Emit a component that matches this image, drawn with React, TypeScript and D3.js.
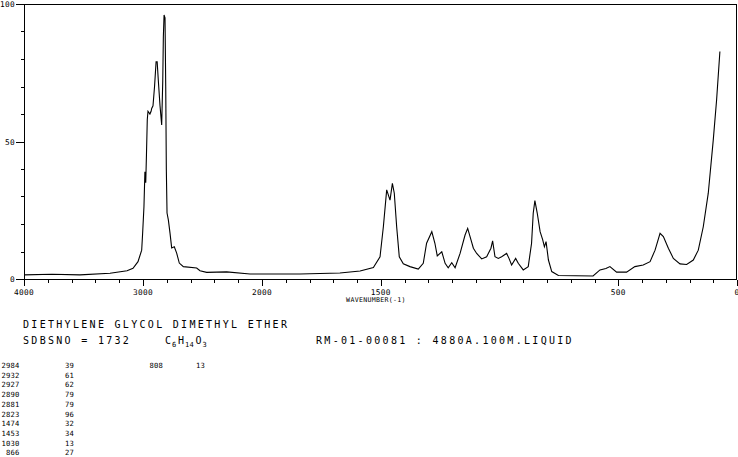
import React from "react";
import * as d3 from "d3";

// Raman spectrum (wavenumber in cm-1, relative intensity)
const WAVENUMBERS = [
  4000, 3765, 3530, 3277, 3134, 3084, 3042, 3011, 3003, 2992, 2984, 2977, 2971, 2964, 2958,
  2942, 2932, 2927, 2916, 2903, 2890, 2881, 2871, 2857, 2843, 2834, 2829, 2823, 2815, 2809,
  2804, 2798, 2787, 2773, 2759, 2737, 2717, 2695, 2661, 2549, 2521, 2465, 2297, 2101, 1840,
  1672, 1587, 1531, 1503, 1489, 1475, 1461, 1451, 1443, 1433, 1422, 1405, 1377, 1342, 1321,
  1307, 1285, 1272, 1262, 1243, 1229, 1216, 1201, 1187, 1166, 1145, 1134, 1120, 1110, 1096,
  1075, 1054, 1036, 1029, 1019, 1005, 991, 970, 960, 949, 932, 921, 900, 879, 865,
  858, 851, 841, 829, 818, 811, 804, 794, 780, 752, 606, 577, 552, 535, 507,
  465, 430, 395, 366, 345, 324, 310, 289, 268, 240, 212, 184, 163, 142, 121,
  100, 86, 72,
];
const INTENSITIES = [
  1.5, 1.7, 1.5, 2.1, 3.0, 3.9, 6.3, 10.5, 16.7, 26.3, 39, 35, 45, 58, 61,
  60, 61, 62, 63, 70, 79, 79, 72, 63, 56, 72, 88, 96, 95, 70,
  40, 24, 21.5, 16.7, 11.3, 11.7, 9.4, 5.8, 4.5, 4.0, 3.0, 2.4, 2.6, 1.8, 1.8,
  2.2, 2.9, 4.2, 8.1, 19, 32.4, 28.7, 34.8, 31.2, 19, 8.1, 5.5, 4.5, 3.6, 5.7,
  13, 17.2, 13, 8.4, 9.9, 5.7, 4.1, 5.9, 4.1, 9.3, 16, 18.4, 14.2, 11.2, 9.3,
  7.3, 8.1, 11.2, 13.9, 8.1, 7.5, 8.1, 9.3, 7.5, 5.1, 7.5, 5.7, 3.3, 4.5, 13,
  23.9, 28.5, 23.9, 17.2, 14.2, 11.7, 13.6, 6.9, 2.7, 1.3, 1.1, 3.3, 3.8, 4.5, 2.5,
  2.5, 4.5, 5.1, 6.3, 10.5, 16.6, 15.4, 11.2, 7.5, 5.5, 5.3, 6.9, 10.5, 19, 31.2,
  50.5, 65, 82.7,
];

const X_TICK_LABELS = [4000, 3000, 2000, 1500, 500, 0];
const Y_TICK_LABELS = [0, 50, 100];

const TITLE = "DIETHYLENE GLYCOL DIMETHYL ETHER";
const SDBS_NO = "SDBSNO = 1732";
const FORMULA_PARTS = [
  ["C", false], ["6", true], ["H", false], ["14", true], ["O", false], ["3", true],
] as [string, boolean][];
const SAMPLE_INFO = "RM-01-00081 : 4880A.100M.LIQUID";

const PEAK_WN_1 = ["2984", "2932", "2927", "2890", "2881", "2823", "1474", "1453", "1030", "866"];
const PEAK_INT_1 = ["39", "61", "62", "79", "79", "96", "32", "34", "13", "27"];
const PEAK_WN_2 = ["808"];
const PEAK_INT_2 = ["13"];

const W = 738;
const H = 457;
const FONT = "'DejaVu Sans Mono', 'Liberation Mono', monospace";

export default function App() {
  const x = d3.scaleLinear().domain([4000, 2000, 0]).range([24, 262, 737]);
  const y = d3.scaleLinear().domain([0, 100]).range([279, 4]);

  const data = WAVENUMBERS.map((w, i) => [w, INTENSITIES[i]] as [number, number]);
  const line = d3
    .line<[number, number]>()
    .x((d) => x(d[0]))
    .y((d) => y(d[1]));

  const xTicks: number[] = [];
  for (let v = 4000; v > 2000; v -= 200) xTicks.push(v);
  for (let v = 2000; v >= 0; v -= 100) xTicks.push(v);
  const yTicks = d3.range(0, 101, 10);

  let fx = 165;
  const formulaEls = FORMULA_PARTS.map(([t, sub], i) => {
    const el = (
      <text
        key={i}
        x={fx}
        y={sub ? 346.5 : 344}
        fontSize={sub ? 7 : 10}
        letterSpacing={sub ? 0.3 : 0}
      >
        {t}
      </text>
    );
    fx += sub ? t.length * 4.5 + 1.5 : 7;
    return el;
  });

  const rowY = (i: number) => 368 + i * 9.7;

  return (
    <svg
      width={W}
      height={H}
      style={{ position: "absolute", left: 0, top: 0, background: "#fff" }}
      fontFamily={FONT}
    >
      <rect x={0} y={0} width={W} height={H} fill="#fff" />
      <g shapeRendering="crispEdges" stroke="#000" strokeWidth={1}>
        <line x1={24.5} x2={24.5} y1={4} y2={279.5} />
        <line x1={24} x2={736.5} y1={4.5} y2={4.5} />
        <line x1={736.5} x2={736.5} y1={4} y2={279.5} />
        <line x1={24} x2={737} y1={279.5} y2={279.5} />
        {xTicks.map((t) => (
          <line
            key={"xt" + t}
            x1={Math.round(x(t)) + 0.5}
            x2={Math.round(x(t)) + 0.5}
            y1={279.5}
            y2={X_TICK_LABELS.includes(t) ? 286 : 283}
          />
        ))}
        {yTicks.map((t) => (
          <line
            key={"yt" + t}
            x1={Y_TICK_LABELS.includes(t) ? 16 : 21}
            x2={24.5}
            y1={Math.round(y(t)) + 0.5}
            y2={Math.round(y(t)) + 0.5}
          />
        ))}
      </g>
      <path d={line(data) || ""} fill="none" stroke="#000" strokeWidth={1.1} />
      <g fontSize={7.8} fill="#000">
        {X_TICK_LABELS.map((t) => (
          <text key={"xl" + t} x={x(t)} y={295} textAnchor="middle" letterSpacing={0.3}>
            {t}
          </text>
        ))}
        {Y_TICK_LABELS.map((t) => (
          <text key={"yl" + t} x={15} y={y(t) + 3} textAnchor="end" letterSpacing={0.3}>
            {t}
          </text>
        ))}
        <text x={376} y={301.5} textAnchor="middle" fontSize={6.6} letterSpacing={0.3}>
          WAVENUMBER(-1)
        </text>
      </g>
      <g fontSize={10} fill="#000">
        <text x={23} y={328} letterSpacing={2.3}>
          {TITLE}
        </text>
        <text x={23} y={344} letterSpacing={2.3}>
          {SDBS_NO}
        </text>
        {formulaEls}
        <text x={316} y={344} letterSpacing={2.3}>
          {SAMPLE_INFO}
        </text>
      </g>
      <g fontSize={7.2} fill="#000" letterSpacing={0.2}>
        {PEAK_WN_1.map((v, i) => (
          <text key={"pw" + i} x={19.5} y={rowY(i)} textAnchor="end">
            {v}
          </text>
        ))}
        {PEAK_INT_1.map((v, i) => (
          <text key={"pi" + i} x={74} y={rowY(i)} textAnchor="end">
            {v}
          </text>
        ))}
        {PEAK_WN_2.map((v, i) => (
          <text key={"pw2" + i} x={163} y={rowY(i)} textAnchor="end">
            {v}
          </text>
        ))}
        {PEAK_INT_2.map((v, i) => (
          <text key={"pi2" + i} x={205} y={rowY(i)} textAnchor="end">
            {v}
          </text>
        ))}
      </g>
    </svg>
  );
}
